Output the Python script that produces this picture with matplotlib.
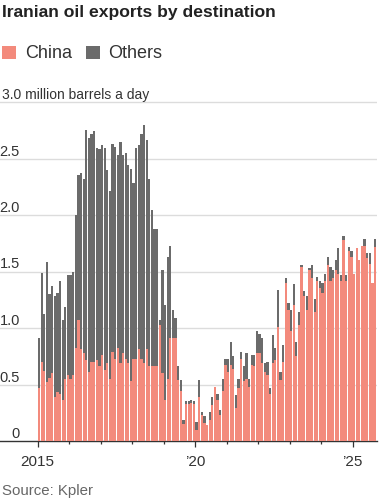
import matplotlib
matplotlib.use("Agg")
import matplotlib.pyplot as plt
from matplotlib.patches import Rectangle
from matplotlib.transforms import blended_transform_factory
import numpy as np

# monthly exports, Jan 2015 - Sep 2025, million barrels a day
total = [
    0.91, 1.49, 1.12, 1.58, 1.30, 1.37, 1.28, 1.31, 1.42, 1.07, 1.19, 1.47,  # 2015
    1.47, 1.50, 2.00, 2.35, 2.37, 2.32, 2.75, 2.68, 2.72, 2.74, 2.59, 2.58,  # 2016
    2.62, 2.59, 2.40, 2.21, 2.63, 2.60, 2.53, 2.65, 2.53, 2.55, 2.44, 2.41,  # 2017
    2.28, 2.59, 2.62, 2.72, 2.80, 2.66, 2.32, 2.04, 1.88, 1.88, 1.07, 1.51,  # 2018
    1.20, 1.63, 1.73, 1.16, 1.09, 0.66, 0.54, 0.19, 0.35, 0.35, 0.36, 0.35,  # 2019
    0.17, 0.54, 0.26, 0.22, 0.14, 0.26, 0.39, 0.48, 0.42, 0.27, 0.55, 0.73,  # 2020
    0.73, 0.88, 0.75, 0.41, 0.55, 0.79, 0.66, 0.78, 0.55, 0.76, 0.76, 0.97,  # 2021
    0.95, 0.91, 0.69, 0.70, 0.47, 0.94, 0.82, 1.34, 0.61, 0.85, 1.44, 1.22,  # 2022
    1.16, 1.39, 0.88, 1.14, 1.56, 1.33, 1.28, 1.53, 1.56, 1.26, 1.45, 1.42,  # 2023
    1.40, 1.48, 1.63, 1.54, 1.51, 1.60, 1.71, 1.47, 1.81, 1.47, 1.72, 1.68,  # 2024
    1.48, 1.71, 1.60, 1.73, 1.79, 1.66, 1.66, 1.40, 1.79,                    # 2025
]
china = [
    0.47, 0.70, 0.62, 0.52, 0.56, 0.60, 0.39, 0.43, 0.42, 0.36, 0.55, 0.58,
    0.55, 0.58, 0.82, 1.07, 0.81, 0.78, 0.72, 0.61, 0.70, 0.70, 0.72, 0.66,
    0.76, 0.63, 0.69, 0.55, 0.79, 0.73, 0.82, 0.69, 0.78, 0.73, 0.69, 0.53,
    0.73, 0.73, 0.81, 0.73, 0.69, 0.81, 0.66, 0.66, 0.66, 0.66, 1.03, 0.60,
    0.36, 0.55, 0.91, 0.91, 0.91, 0.54, 0.44, 0.15, 0.33, 0.33, 0.34, 0.33,
    0.10, 0.39, 0.23, 0.16, 0.14, 0.19, 0.32, 0.48, 0.36, 0.23, 0.44, 0.67,
    0.61, 0.67, 0.64, 0.29, 0.47, 0.73, 0.53, 0.55, 0.48, 0.67, 0.66, 0.78,
    0.78, 0.69, 0.61, 0.58, 0.42, 0.69, 0.72, 1.01, 0.54, 0.70, 1.40, 1.16,
    0.97, 1.20, 0.75, 1.03, 1.54, 1.28, 1.16, 1.51, 1.44, 1.14, 1.42, 1.35,
    1.31, 1.42, 1.56, 1.42, 1.44, 1.51, 1.48, 1.42, 1.78, 1.42, 1.68, 1.63,
    1.48, 1.71, 1.60, 1.73, 1.73, 1.62, 1.57, 1.40, 1.72,
]
others = [t - c for t, c in zip(total, china)]

year_ticks = [0, 12, 24, 36, 48, 60, 72, 84, 96, 108, 120]
year_labels = {0: "2015", 60: "\u201920", 120: "\u201925"}
grid_values = [0.5, 1.0, 1.5, 2.0, 2.5, 3.0]
value_labels = ["0", "0.5", "1.0", "1.5", "2.0", "2.5"]

PINK = "#f38a7c"
GREY = "#6b6b6b"
NARROW = ["Liberation Sans Narrow", "Liberation Sans", "DejaVu Sans"]
REGULAR = ["Liberation Sans", "DejaVu Sans"]

W, H = 383, 503
fig = plt.figure(figsize=(W / 100, H / 100), dpi=100)

# axes: baseline at y=441 px, 113 px per million b/d, spans x 0..377 px
ax = fig.add_axes([0, (H - 441) / H, 377 / W, 3.02 * 113 / H])
ax.set_xlim(-14.36, 129.26)
ax.set_ylim(0, 3.02)

x = np.arange(len(total)) + 0.5
ax.bar(x, china, width=0.86, color=PINK, linewidth=0, zorder=3)
ax.bar(x, others, bottom=china, width=0.86, color=GREY, linewidth=0, zorder=3)

ax.set_yticks(grid_values)
ax.yaxis.grid(True, color="#dcdcdc", linewidth=1)
ax.tick_params(axis="y", length=0, labelleft=False)
ax.set_axisbelow(True)

for s in ["top", "right", "left"]:
    ax.spines[s].set_visible(False)
ax.spines["bottom"].set_color("#333333")
ax.spines["bottom"].set_linewidth(1)

ax.set_xticks([0, 60, 120])
ax.set_xticklabels([year_labels[k] for k in [0, 60, 120]], family=NARROW, fontsize=11, color="#333333")
ax.set_xticks([t for t in year_ticks if t not in year_labels], minor=True)
ax.tick_params(axis="x", which="major", length=4, width=0.9, color="#333333", pad=6)
ax.tick_params(axis="x", which="minor", length=2.5, width=0.9, color="#333333")

# value labels sit just above their gridline
tr = blended_transform_factory(fig.transFigure, ax.transData)
for v, lab in zip([0, 0.5, 1.0, 1.5, 2.0, 2.5], value_labels):
    fig.text(20 / W, v, lab, transform=tr, ha="right", va="bottom",
             family=NARROW, fontsize=10.5, color="#333333")
fig.text(2 / W, 3.0, "3.0 million barrels a day", transform=tr, ha="left", va="bottom",
         family=NARROW, fontsize=10, color="#333333")

fig.text(2 / W, 1 - 17 / H, "Iranian oil exports by destination", family=NARROW,
         fontsize=12.6, weight="bold", color="#222222", va="baseline")

fig.add_artist(Rectangle((2 / W, 1 - 59 / H), 14 / W, 13 / H, transform=fig.transFigure,
                         color=PINK, linewidth=0))
fig.text(25 / W, 1 - 58 / H, "China", family=REGULAR, fontsize=13, color="#333333", va="baseline")
fig.add_artist(Rectangle((86 / W, 1 - 59 / H), 14 / W, 13 / H, transform=fig.transFigure,
                         color=GREY, linewidth=0))
fig.text(108 / W, 1 - 58 / H, "Others", family=REGULAR, fontsize=13, color="#333333", va="baseline")

fig.text(2 / W, 1 - 495 / H, "Source: Kpler", family=NARROW, fontsize=10.8, color="#666666", va="baseline")

fig.savefig("out.png", dpi=100)
